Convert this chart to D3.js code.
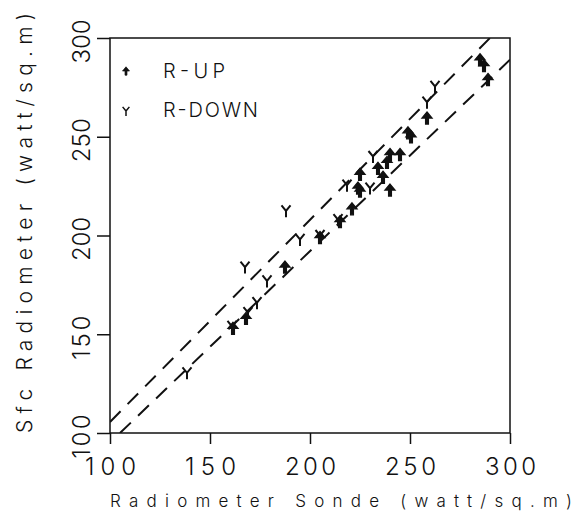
<!DOCTYPE html>
<html><head><meta charset="utf-8">
<script src="https://cdn.jsdelivr.net/npm/d3@7"></script>
<style>
body{margin:0;background:#fff;}
text{font-family:"Inter","DejaVu Sans",sans-serif;font-weight:300;fill:#111;}
</style></head>
<body><svg id="c" width="574" height="517"></svg>
<script>
// tick labels
const xTicks = [100, 150, 200, 250, 300];
const yTicks = [100, 150, 200, 250, 300];
// R-UP series
const upX = [285, 287, 289, 258.5, 249, 250.5, 245, 240, 238.5, 234, 225, 236.5, 240, 224, 225, 221, 215, 205, 187.5, 168, 161.5];
const upY = [289, 286, 279, 259.5, 252, 250, 241, 241, 237, 234, 231, 229.5, 223, 224, 222.5, 213.5, 207, 199, 184, 158, 153];
// R-DOWN series
const downX = [262.5, 258.5, 231.5, 218.5, 230, 214, 205, 195, 188, 167.5, 178.5, 173.5, 169, 161, 138.5];
const downY = [275.5, 267.5, 240, 225.5, 224, 208, 200, 198, 212.5, 184, 177, 166, 161, 154, 130.5];
// dashed reference lines
const upperLineX = [100, 290], upperLineY = [105.6, 300];
const lowerLineX = [105, 300], lowerLineY = [100, 289];
const legendNames = ["R-UP", "R-DOWN"];

const svg = d3.select("#c");
const x = d3.scaleLinear([100, 300], [110, 510]);
const y = d3.scaleLinear([100, 300], [433, 38]);
const ink = "#111";

// frame
svg.append("rect").attr("x", x(100)).attr("y", y(300))
  .attr("width", x(300) - x(100)).attr("height", y(100) - y(300))
  .attr("fill", "none").attr("stroke", ink).attr("stroke-width", 1.5);

// axes
const gx = svg.append("g").attr("transform", `translate(0,${y(100)})`)
  .call(d3.axisBottom(x).tickValues(xTicks).tickSizeInner(11).tickSizeOuter(0));
gx.select(".domain").remove();
gx.selectAll("line").attr("stroke", ink).attr("stroke-width", 1.5);
gx.selectAll("text").attr("y", 42).attr("dy", null)
  .attr("font-size", 24).attr("font-family", null).attr("fill", ink)
  .attr("textLength", 51).attr("lengthAdjust", "spacing");

const gy = svg.append("g").attr("transform", `translate(${x(100)},0)`)
  .call(d3.axisLeft(y).tickValues(yTicks).tickSizeInner(13).tickSizeOuter(0));
gy.select(".domain").remove();
gy.selectAll("line").attr("stroke", ink).attr("stroke-width", 1.5);
gy.selectAll("text").attr("transform", "rotate(-90)")
  .attr("x", -3).attr("y", -20).attr("dy", null)
  .attr("text-anchor", "middle").attr("font-family", null)
  .attr("font-size", 24).attr("fill", ink)
  .attr("textLength", 44).attr("lengthAdjust", "spacing");
d3.selectAll(".tick text").style("font-family", "Inter, 'DejaVu Sans', sans-serif").style("font-weight", 300);

// axis titles
svg.append("text").attr("x", 110).attr("y", 507)
  .attr("font-size", 17)
  .attr("textLength", 462).attr("lengthAdjust", "spacing")
  .text("Radiometer Sonde (watt/sq.m)");
svg.append("text").attr("transform", "translate(32,433) rotate(-90)")
  .attr("font-size", 21)
  .attr("textLength", 420).attr("lengthAdjust", "spacing")
  .text("Sfc Radiometer (watt/sq.m)");

// dashed lines
const line = d3.line().x(d => x(d[0])).y(d => y(d[1]));
svg.append("clipPath").attr("id", "pc").append("rect")
  .attr("x", x(100)).attr("y", y(300)).attr("width", x(300) - x(100)).attr("height", y(100) - y(300));
[[upperLineX, upperLineY], [lowerLineX, lowerLineY]].forEach(([lx, ly]) => {
  svg.append("path").datum(d3.zip(lx, ly)).attr("d", line)
    .attr("fill", "none").attr("stroke", ink).attr("stroke-width", 2)
    .attr("stroke-dasharray", "15,10").attr("clip-path", "url(#pc)");
});

// markers
const upPath = "M0,-6 L5,0 L1.4,0 L1.4,6 L-1.4,6 L-1.4,0 L-5,0 Z";
const downPath = "M-4.5,-5.5 L0,0 L4.5,-5.5 M0,0 L0,6.5";
svg.append("g").selectAll("path").data(d3.zip(upX, upY)).join("path")
  .attr("d", upPath).attr("transform", d => `translate(${x(d[0])},${y(d[1])})`)
  .attr("fill", ink).attr("stroke", ink).attr("stroke-width", 1.3);
svg.append("g").selectAll("path").data(d3.zip(downX, downY)).join("path")
  .attr("d", downPath).attr("transform", d => `translate(${x(d[0])},${y(d[1])})`)
  .attr("fill", "none").attr("stroke", ink).attr("stroke-width", 2);

// legend
const lg = svg.append("g");
lg.append("path").attr("d", upPath).attr("transform", "translate(126,71) scale(0.7)")
  .attr("fill", ink).attr("stroke", ink).attr("stroke-width", 1);
lg.append("path").attr("d", downPath).attr("transform", "translate(126,111) scale(0.75)")
  .attr("fill", "none").attr("stroke", ink).attr("stroke-width", 2);
lg.append("text").attr("x", 163).attr("y", 78).attr("font-size", 20)
  .attr("textLength", 62).attr("lengthAdjust", "spacing").text(legendNames[0]);
lg.append("text").attr("x", 163).attr("y", 117).attr("font-size", 20)
  .attr("textLength", 95).attr("lengthAdjust", "spacing").text(legendNames[1]);
</script></body></html>
